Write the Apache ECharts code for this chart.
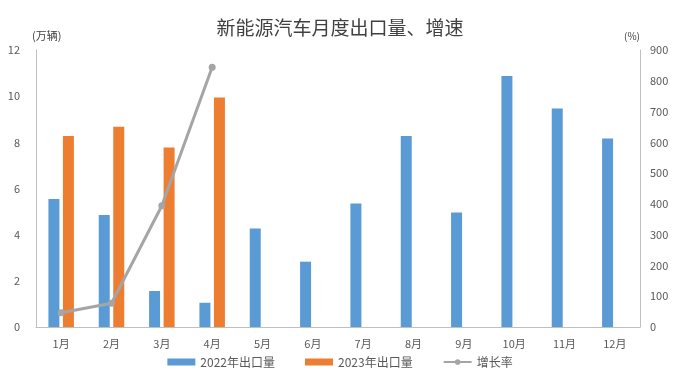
<!DOCTYPE html>
<html><head><meta charset="utf-8">
<script src="https://cdn.jsdelivr.net/npm/echarts@6/dist/echarts.min.js"></script>
<style>html,body{margin:0;padding:0;background:#fff}#c{width:680px;height:372px}</style>
</head><body><div id="c"></div>
<script>
var months = ['1月','2月','3月','4月','5月','6月','7月','8月','9月','10月','11月','12月'];
var export2022 = [5.55, 4.85, 1.56, 1.05, 4.27, 2.83, 5.35, 8.27, 4.96, 10.87, 9.47, 8.17];
var export2023 = [8.27, 8.67, 7.78, 9.94, null, null, null, null, null, null, null, null];
var growth = [46, 77, 394, 844, null, null, null, null, null, null, null, null];
var leftTicks = [0, 2, 4, 6, 8, 10, 12];
var rightTicks = [0, 100, 200, 300, 400, 500, 600, 700, 800, 900];

var font = '"Noto Sans CJK SC", "Liberation Sans", sans-serif';
var chart = echarts.init(document.getElementById('c'));
chart.setOption({
  animation: false,
  textStyle: {fontFamily: font},
  title: {text: '新能源汽车月度出口量、增速', left: 'center', top: 13,
    textStyle: {fontSize: 19, fontWeight: 'normal', color: '#404040', fontFamily: font}},
  grid: {left: 36, right: 40, top: 50, bottom: 45},
  legend: {bottom: -1, left: 'center', itemGap: 30, itemWidth: 28, itemHeight: 7,
    textStyle: {fontSize: 12, color: '#595959'},
    data: [{name: '2022年出口量', icon: 'rect'}, {name: '2023年出口量', icon: 'rect'}, {name: '增长率'}]},
  xAxis: {type: 'category', data: months,
    axisLine: {lineStyle: {color: '#bfbfbf', width: 1}}, axisTick: {show: false},
    axisLabel: {color: '#595959', fontSize: 11, margin: 11}},
  yAxis: [
    {type: 'value', min: leftTicks[0], max: leftTicks[leftTicks.length-1], interval: 2,
      name: '(万辆)', nameGap: 9, nameTextStyle: {color: '#404040', fontSize: 11, align: 'left', padding: [0,0,0,-4]},
      axisLine: {show: true, lineStyle: {color: '#bfbfbf'}}, axisTick: {show: false},
      splitLine: {show: false}, axisLabel: {color: '#595959', fontSize: 11, margin: 16}},
    {type: 'value', min: rightTicks[0], max: rightTicks[rightTicks.length-1], interval: 100,
      name: '(%)', nameGap: 9, nameTextStyle: {color: '#404040', fontSize: 10, align: 'right', padding: [0,0,0,0]},
      axisLine: {show: true, lineStyle: {color: '#bfbfbf'}}, axisTick: {show: false},
      splitLine: {show: false}, axisLabel: {color: '#595959', fontSize: 11, margin: 10}}
  ],
  series: [
    {name: '2022年出口量', type: 'bar', data: export2022, barWidth: 11, barGap: '32%',
      itemStyle: {color: '#5B9BD5'}},
    {name: '2023年出口量', type: 'bar', data: export2023, barWidth: 11,
      itemStyle: {color: '#ED7D31'}},
    {name: '增长率', type: 'line', yAxisIndex: 1, data: growth, symbol: 'circle', symbolSize: 7,
      lineStyle: {color: '#A5A5A5', width: 3}, itemStyle: {color: '#A5A5A5'}}
  ]
});
</script></body></html>
